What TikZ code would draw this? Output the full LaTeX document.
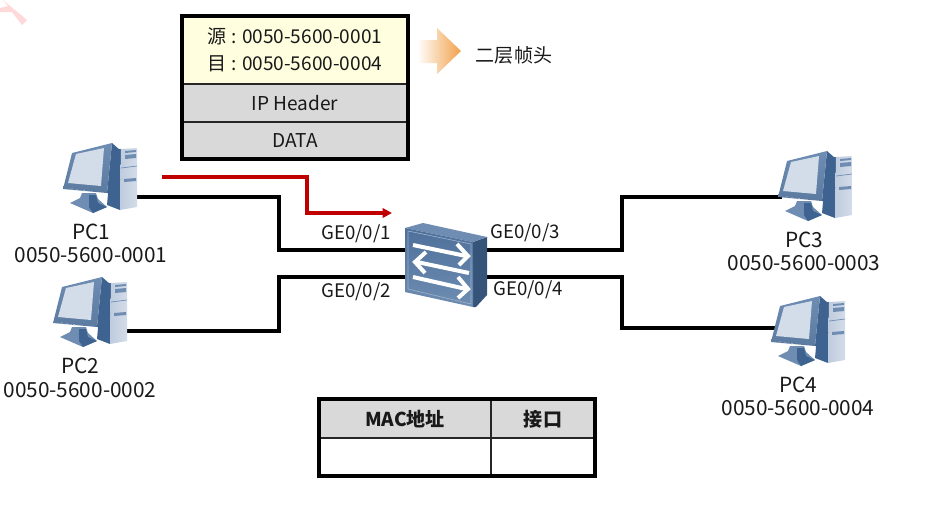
\documentclass[tikz,border=0pt]{standalone}
\usepackage{fontspec}
\setmainfont{Noto Sans CJK SC}
\usetikzlibrary{arrows.meta}
\definecolor{hdr}{HTML}{FFFFE0}
\definecolor{gry}{HTML}{D9D9D9}
\definecolor{redl}{HTML}{C00000}
\definecolor{pcdark}{HTML}{3F6390}
\definecolor{pcmid}{HTML}{6F8DB2}
\definecolor{pclight}{HTML}{D3DCE9}
\definecolor{orng}{HTML}{F2A14A}
\tikzset{
  x=0.75pt,y=-0.75pt,
  lbl/.style={font=\fontsize{15.6pt}{15.6pt}\selectfont,inner sep=0pt,text=black!90},
  port/.style={font=\fontsize{14pt}{14pt}\selectfont,inner sep=0pt,text=black!90},
  cell/.style={font=\fontsize{14.3pt}{14.3pt}\selectfont,inner sep=0pt,text=black!90},
  bcell/.style={font=\fontsize{14.3pt}{14.3pt}\selectfont\bfseries,inner sep=0pt,text=black!90},
  wire/.style={line width=3.4pt,black,line join=miter},
  redwire/.style={line width=2.7pt,redl,-{Triangle[length=7pt,width=7pt]}},
  frameb/.style={line width=3.2pt,black},
  thin rule/.style={line width=1.6pt,black!85},
  swarrow/.style={white,line width=3pt,line join=miter},
  pcicon/.pic={
    % tower side
    \fill[pcdark] (112,150) -- (121,149) -- (120,210) -- (107,205) -- cycle;
    % tower front
    \shade[left color=pclight!80!pcmid,right color=pclight] (121,149) -- (137,148) -- (137,207) -- (120,210) -- cycle;
    \fill[pcmid] (125,151) -- (136,150) -- (136,152) -- (125,153) -- cycle;
    \fill[pcmid] (125,155) -- (136,154) -- (136,158) -- (125,159) -- cycle;
    \fill[pcmid] (124,179) -- (136,178) -- (136,181) -- (124,182) -- cycle;
    \draw[pcmid,line width=.5pt] (121,168) -- (137,166);
    % stand
    \fill[pcmid] (70,203) -- (80,198) -- (82,193) -- (96,193) -- (98,199) -- (107,207) -- (93,213) -- cycle;
    \fill[pcdark] (89,195) -- (96,195) -- (98,203) -- (107,207) -- (93,213) -- (89,207) -- cycle;
    % monitor
    \fill[pcdark] (112,143) -- (120,150) -- (112,194) -- (107,193) -- cycle;
    \shade[top color=pcmid,bottom color=pcdark!85] (72,153) -- (112,143) -- (107,193) -- (63,189) -- cycle;
    \fill[pclight] (76,154) -- (104,148) -- (101,186) -- (68,183) -- cycle;
    \fill[pclight!70] (72,189) circle (.6) (77,190) circle (.6) (84,191) circle (.8);
  },
}
\begin{document}
\begin{tikzpicture}
\useasboundingbox (0,0) rectangle (936,512);
\fill[white] (0,0) rectangle (936,512);
% faint mark
\fill[red!15] (3,0) -- (27,20) -- (22,25) -- (12,12) -- (0,12) -- (0,8) -- (8,6) -- cycle;

% anchors on the devices
\coordinate (pc1p) at (135,197);
\coordinate (pc2p) at (125,331);
\coordinate (pc3p) at (782,197);
\coordinate (pc4p) at (775,328);
\coordinate (sw1) at (410,250);
\coordinate (sw2) at (410,277);
\coordinate (sw3) at (485,250);
\coordinate (sw4) at (485,277);
\coordinate (redA) at (162,177);
\coordinate (redB) at (392,213);

% connectors
\draw[wire] (pc1p) -- ++(144,0) |- (sw1);
\draw[wire] (pc2p) -- ++(154,0) |- (sw2);
\draw[wire] (sw3) -- ++(137,0) |- (pc3p);
\draw[wire] (sw4) -- ++(137,0) |- (pc4p);
\draw[redwire] (redA) -- ++(145,0) |- (redB);

% PCs
\pic at (0,0) {pcicon};
\pic at (-10,134) {pcicon};
\pic at (715,8) {pcicon};
\pic at (708,153) {pcicon};

% switch
\fill[pcdark!85!black] (473,242) -- (487,237) -- (487,295) -- (476,307) -- (473,307) -- cycle;
\fill[pcmid] (405,228) -- (423,223) -- (487,237) -- (473,242) -- cycle;
\shade[top color=pcdark!70!pcmid,bottom color=pcmid] (405,228) -- (473,242) -- (473,307) -- (405,292) -- cycle;
\draw[pcmid!70!white,line width=.5pt] (408,231) -- (471,244) -- (471,304) -- (408,289) -- cycle;
\draw[swarrow] (413,245) -- (466,256);
\draw[swarrow] (457,244) -- (468,256) -- (459,265);
\draw[swarrow] (469,273) -- (417,262);
\draw[swarrow] (426,252) -- (415,262) -- (425,273);
\draw[swarrow] (413,277) -- (466,289);
\draw[swarrow] (458,277) -- (468,289) -- (458,298);

% labels
\node[lbl] (pc1a) at (91,232) {PC1};
\node[lbl] (pc1b) at (91,255) {0050-5600-0001};
\node[lbl] (pc2a) at (80,366) {PC2};
\node[lbl] (pc2b) at (80,390) {0050-5600-0002};
\node[lbl] (pc3a) at (804,240) {PC3};
\node[lbl] (pc3b) at (804,263) {0050-5600-0003};
\node[lbl] (pc4a) at (798,385) {PC4};
\node[lbl] (pc4b) at (798,408) {0050-5600-0004};
\node[port] (g1) at (356,234) {GE0/0/1};
\node[port] (g2) at (356,292) {GE0/0/2};
\node[port] (g3) at (525,233) {GE0/0/3};
\node[port] (g4) at (528,290) {GE0/0/4};

% frame stack
\fill[hdr] (182,16) rectangle (408,84);
\fill[gry] (182,84) rectangle (408,160);
\draw[thin rule] (182,84) -- (408,84) (182,122) -- (408,122);
\draw[frameb] (182,16) rectangle (408,159);
\node[cell] (src) at (295,36) {源 : 0050-5600-0001};
\node[cell] (dst) at (295,64) {目 : 0050-5600-0004};
\node[cell] (ip) at (295,103) {IP Header};
\node[cell] (data) at (295,141) {DATA};

% orange arrow
\shade[left color=white,right color=orng] (417,40) -- (437,40) -- (437,28) -- (461,51) -- (437,74) -- (437,63) -- (417,63) -- cycle;
\node[cell] (l2) at (514,55) {二层帧头};

% MAC table
\fill[gry] (319,399) rectangle (595,438);
\draw[thin rule] (319,438) -- (595,438);
\draw[thin rule] (491,399) -- (491,477);
\draw[frameb] (319,399) rectangle (595,476);
\node[bcell] (mac) at (405,419) {MAC地址};
\node[bcell] (if) at (543,419) {接口};
\end{tikzpicture}
\end{document}
